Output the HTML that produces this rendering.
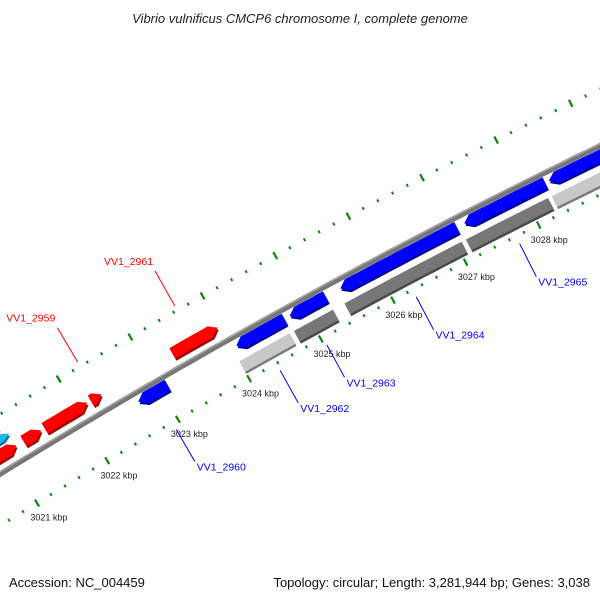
<!DOCTYPE html>
<html><head><meta charset="utf-8"><style>
body{margin:0;background:#fff}
svg{display:block;font-family:"Liberation Sans","DejaVu Sans",sans-serif}
</style></head><body>
<svg id="map" width="600" height="600" viewBox="0 0 600 600" xmlns="http://www.w3.org/2000/svg">
<rect width="600" height="600" fill="#fff"/>
<text x="300" y="23" text-anchor="middle" font-size="13" font-style="italic" fill="#222">Vibrio vulnificus CMCP6 chromosome I, complete genome</text>
<g id="ticks"></g><g id="backbone"></g><g id="features"></g><g id="labels"></g>
<text x="9" y="587" font-size="13" fill="#111">Accession: NC_004459</text>
<text x="590" y="587" text-anchor="end" font-size="13" fill="#111">Topology: circular; Length: 3,281,944 bp; Genes: 3,038</text>
</svg>
<script>
// data
const tickMajors = [3020, 3021, 3022, 3023, 3024, 3025, 3026, 3027, 3028, 3029, 3030];
const tickLabels = ["3020 kbp","3021 kbp","3022 kbp","3023 kbp","3024 kbp","3025 kbp","3026 kbp","3027 kbp","3028 kbp","3029 kbp","3030 kbp"];
const featStart = [3020.5, 3021.25, 3021.55, 3022.2, 3023.34, 3022.69, 3024.06, 3024.8, 3025.5, 3027.2, 3028.35, 3024.0, 3024.76, 3025.46, 3027.13, 3028.3, 3020.5, 3020.5];
const featEnd   = [3021.15, 3021.5, 3022.15, 3022.35, 3023.97, 3023.1, 3024.73, 3025.3, 3027.1, 3028.3, 3029.5, 3024.7, 3025.3, 3027.07, 3028.25, 3029.5, 3021.15, 3021.08];
const featTrack = ["fwd","fwd","fwd","fwd","fwd","rev","rev","rev","rev","rev","rev","gray","gray","gray","gray","gray","cyan","pink"];
const featColor = ["#ff0000","#ff0000","#ff0000","#ff0000","#ff0000","#0000ff","#0000ff","#0000ff","#0000ff","#0000ff","#0000ff","#c8c8c8","#777777","#777777","#777777","#c8c8c8","#1ab8e8","#f08080"];
const geneNames = ["VV1_2959","VV1_2961","VV1_2960","VV1_2962","VV1_2963","VV1_2964","VV1_2965"];
const genePos   = [3022.3, 3023.65, 3022.92, 3024.38, 3025.03, 3026.27, 3027.69];
const geneSide  = ["out","out","in","in","in","in","in"];

// axis functions
const R = 6830, A0 = -0.548, DA = 0.012, K0 = 3021;
const CX = 37 - R*Math.sin(A0), CY = 503 + R*Math.cos(A0);
function P(k, r){ const a = A0 + DA*(k-K0); return [CX+(R+r)*Math.sin(a), CY-(R+r)*Math.cos(a)]; }
const trackR = {fwd:60, rev:35, gray:14, cyan:74, pink:83};
const NS="http://www.w3.org/2000/svg";
function mk(tag, attrs, parent){ const e=document.createElementNS(NS,tag); for(const k in attrs) e.setAttribute(k,attrs[k]); parent.appendChild(e); return e; }
const gT=document.getElementById('ticks'), gB=document.getElementById('backbone'), gF=document.getElementById('features'), gL=document.getElementById('labels');

// ticks on inner (r=0) and outer (r=95) rings
[0,95].forEach(ringR=>{
  for(let i=0;i<(tickMajors.length-1)*5;i++){
    const k = tickMajors[0] + i*0.2;
    const major = i%5===0;
    const len = major?8:3;
    const a=P(k, ringR-len/2), b=P(k, ringR+len/2);
    const ln=mk('line',{x1:a[0],y1:a[1],x2:b[0],y2:b[1],stroke:'#0a870a','stroke-width':major?2.2:2},gT);
    
    
  }
});
tickMajors.forEach((k,i)=>{
  const p=P(k,-17);
  const t=mk('text',{x:p[0]+3,y:p[1]+3,'text-anchor':'middle','font-size':'9',fill:'#222'},gT);
  t.textContent=tickLabels[i];
  
  
});

// backbone
function arcPath(k1,k2,r){ let d=''; for(let k=k1;k<=k2+1e-9;k+=0.1){const p=P(k,r); d+=(d?'L':'M')+p[0].toFixed(1)+' '+p[1].toFixed(1);} return d; }
let bb=mk('path',{d:arcPath(3020.3,3029.7,44),fill:'none',stroke:'#777','stroke-width':5.5},gB);


let bb2=mk('path',{d:arcPath(3020.3,3029.7,45.8),fill:'none',stroke:'#aaa','stroke-width':1.2},gB);



// features
function shade(hex,f){ const n=parseInt(hex.slice(1),16); const r=(n>>16)&255,g=(n>>8)&255,b=n&255; return 'rgb('+Math.round(r*f)+','+Math.round(g*f)+','+Math.round(b*f)+')'; }
function featPoly(k1,k2,r,h,dir){
  const hd=0.1, pts=[];
  if(dir==='fwd'){
    for(let k=k1;k<k2-hd;k+=0.1) pts.push(P(k,r+h)); pts.push(P(k2-hd,r+h)); pts.push(P(k2,r)); pts.push(P(k2-hd,r-h));
    for(let k=k2-hd;k>k1;k-=0.1) pts.push(P(k,r-h)); pts.push(P(k1,r-h));
  } else if(dir==='rev'){
    pts.push(P(k1,r)); pts.push(P(k1+hd,r+h)); for(let k=k1+hd;k<k2;k+=0.1) pts.push(P(k,r+h)); pts.push(P(k2,r+h)); pts.push(P(k2,r-h));
    for(let k=k2;k>k1+hd;k-=0.1) pts.push(P(k,r-h)); pts.push(P(k1+hd,r-h));
  } else {
    for(let k=k1;k<k2;k+=0.1) pts.push(P(k,r+h)); pts.push(P(k2,r+h));
    for(let k=k2;k>k1;k-=0.1) pts.push(P(k,r-h)); pts.push(P(k1,r-h));
  }
  return pts.map(p=>p[0].toFixed(1)+','+p[1].toFixed(1)).join(' ');
}
featStart.forEach((s,i)=>{
  const tr=featTrack[i], r=trackR[tr], dir=(tr==='fwd'||tr==='cyan'||tr==='pink')?'fwd':(tr==='rev'?'rev':'box');
  const h=(tr==='cyan'||tr==='pink')?4:6;
  const g=mk('g',{},gF);
  
  
  mk('polygon',{points:featPoly(s,featEnd[i],r-2.5,h,dir),fill:shade(featColor[i],0.62)},g);
  mk('polygon',{points:featPoly(s,featEnd[i],r,h,dir),fill:featColor[i]},g);
});

// gene labels
geneNames.forEach((nm,i)=>{
  const out=geneSide[i]==='out', col=out?'#ff0000':'#0000ff';
  const a=out?P(genePos[i],100):P(genePos[i],-8), b=out?P(genePos[i],140):P(genePos[i],-45);
  const ln=mk('line',{x1:a[0],y1:a[1],x2:b[0],y2:b[1],stroke:col,'stroke-width':1},gL);
  
  
  const t=mk('text',{x:out?b[0]-2:b[0]+2,y:out?b[1]-6:b[1]+9,'text-anchor':out?'end':'start','font-size':'10.5',fill:col},gL);
  t.textContent=nm;
  
  
});
</script>
</body></html>
